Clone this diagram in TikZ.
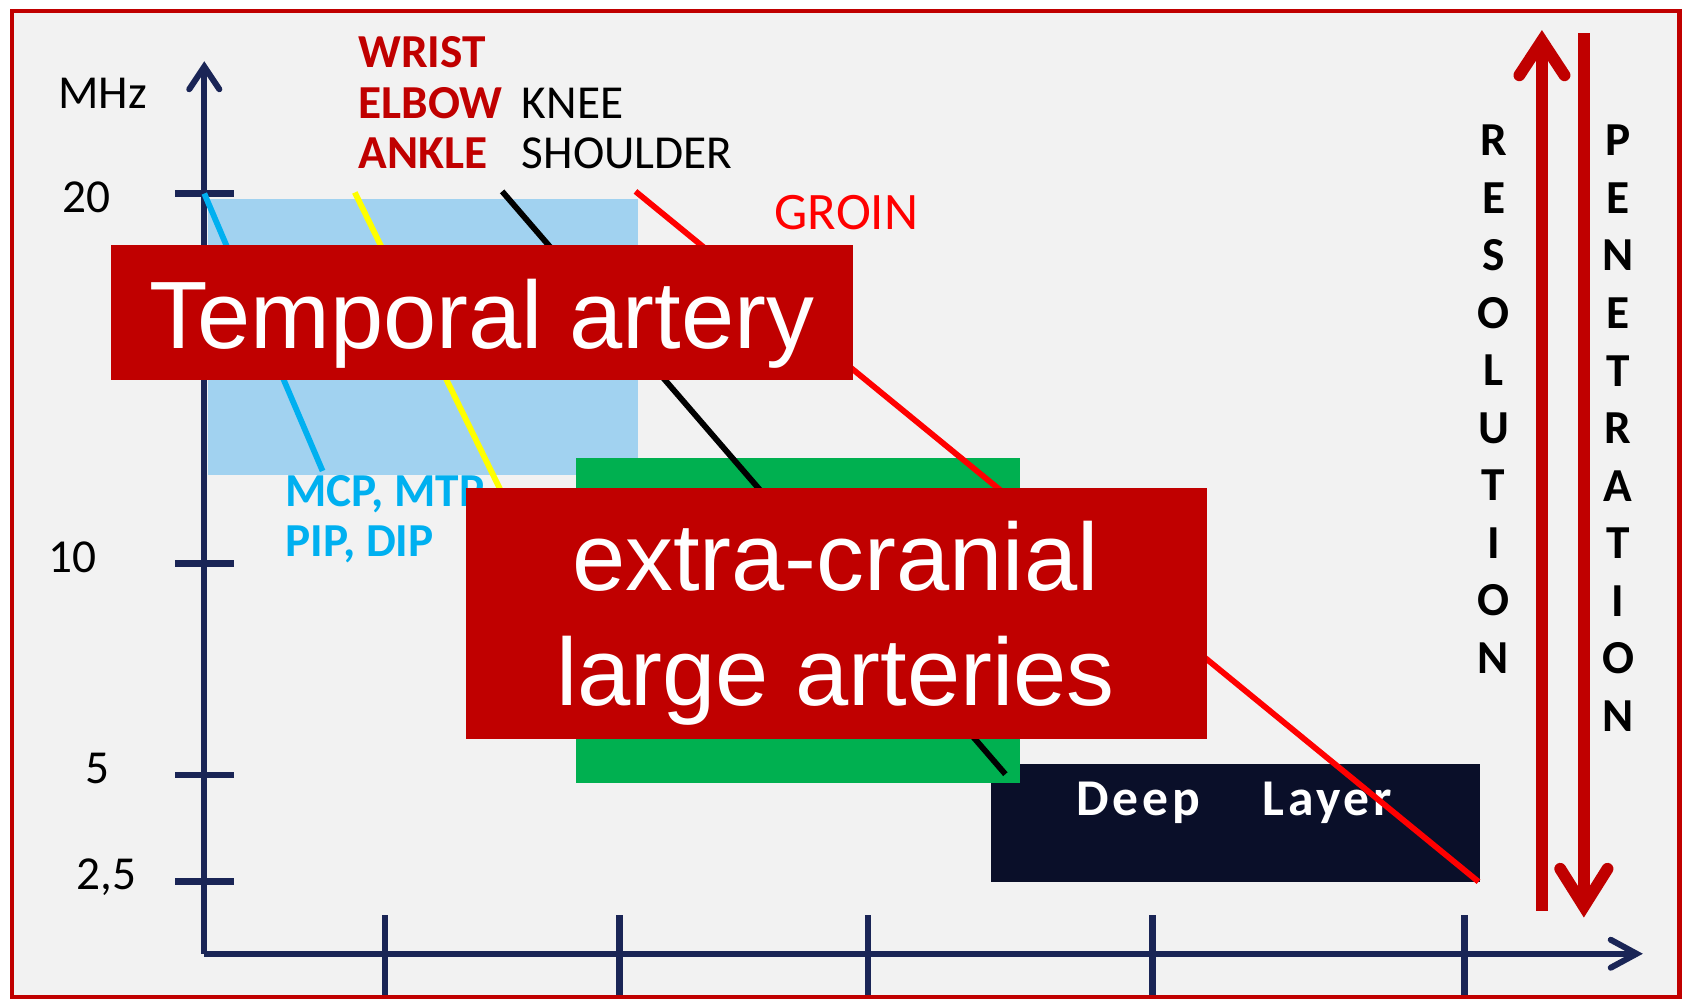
\documentclass[tikz,border=0pt]{standalone}
\usepackage{fontspec}
\setmainfont{Carlito}
\newfontfamily\arialfont{Liberation Sans}
\newfontfamily\spacedfont[LetterSpace=7]{Carlito}
\definecolor{bgc}{HTML}{F2F2F2}
\definecolor{darkred}{HTML}{C00000}
\definecolor{navy}{HTML}{1A2556}
\definecolor{deepc}{HTML}{0A0F29}
\definecolor{lblue}{HTML}{A1D2F0}
\definecolor{sky}{HTML}{00B0F0}
\definecolor{grn}{HTML}{00B050}
\definecolor{pureyellow}{HTML}{FFFF00}
\definecolor{purered}{HTML}{FF0000}
\tikzset{
  lab/.style={inner sep=0pt, font=\fontsize{22}{26}\selectfont},
  boldlab/.style={inner sep=0pt, font=\fontsize{22}{26}\selectfont\bfseries},
  bigtxt/.style={inner sep=0pt, text=white, font=\arialfont\fontsize{44.5}{53}\selectfont},
  redbox/.style={fill=darkred, inner sep=0pt, anchor=north west},
  axisline/.style={navy, line width=2.8pt},
  ticks/.style={navy, line width=3pt},
  axhead/.style={navy, line width=2.8pt, line cap=round, line join=miter},
  curve/.style={line width=2.7pt},
  bigarrow/.style={darkred, line width=5.5pt},
  bighead/.style={darkred, line width=5.5pt, line cap=round, line join=miter},
  vletter/.style={inner sep=0pt, anchor=base, font=\fontsize{22}{26}\selectfont\bfseries},
  deeptxt/.style={inner sep=0pt, anchor=base west, text=white, font=\spacedfont\bfseries\fontsize{24}{28}\selectfont}
}
\begin{document}
\begin{tikzpicture}[x=0.5pt,y=-0.5pt]
\useasboundingbox (0,0) rectangle (1568,929);
\fill[white] (0,0) rectangle (1568,929);
\draw[darkred, line width=2pt, fill=bgc] (11,10) rectangle (1562,927);

% filled regions
\node[fill=lblue, inner sep=0pt, anchor=north west, minimum width=200pt, minimum height=128pt] (bluezone) at (193,185) {};
\node[fill=deepc, inner sep=0pt, anchor=north west, minimum width=227.5pt, minimum height=55pt] (deepzone) at (921,710) {};
\node[deeptxt] (deep) at (1001,758) {Deep};
\node[deeptxt] (layer) at (1174,758) {Layer};
\node[fill=grn, inner sep=0pt, anchor=north west, minimum width=206.5pt, minimum height=151pt] (greenzone) at (535,426) {};

% axes
\coordinate (origin) at (190,887);
\coordinate (ytop) at (190,62);
\coordinate (xend) at (1522,887);
\draw[axisline] (origin) -- (ytop);
\draw[axisline] (origin) -- (xend);
\draw[axhead] (176,83) -- (ytop) -- (204,83);
\draw[axhead] (1498,874) -- (xend) -- (1498,900);
\foreach \yy in {180,524,721,820} \draw[ticks] (163,\yy) -- (218,\yy);
\foreach \xx in {358,576,807,1072,1362} \draw[ticks] (\xx,851) -- (\xx,925);

% axis labels
\node[lab, anchor=base west] (mhz) at (54,101) {MHz};
\node[lab, anchor=base west] (t20) at (58,198) {20};
\node[lab, anchor=base west] (t10) at (45,532) {10};
\node[lab, anchor=base west] (t5) at (79,729) {5};
\node[lab, anchor=base west] (t25) at (71,827) {2,5};

% joint labels
\node[boldlab, anchor=base west, text=darkred] (wrist) at (333,63) {WRIST};
\node[boldlab, anchor=base west, text=darkred] (elbow) at (333,110) {ELBOW};
\node[boldlab, anchor=base west, text=darkred] (ankle) at (333,157) {ANKLE};
\node[lab, anchor=base west] (knee) at (485,110) {KNEE};
\node[lab, anchor=base west] (shoulder) at (485,157) {SHOULDER};
\node[inner sep=0pt, anchor=base west, text=purered, font=\fontsize{24.5}{28}\selectfont] (groin) at (720,213) {GROIN};
\node[boldlab, anchor=base west, text=sky] (mcp) at (265,471) {MCP, MTP};
\node[boldlab, anchor=base west, text=sky] (pip) at (265,518) {PIP, DIP};

% frequency lines
\coordinate (b1) at (190,180); \coordinate (b2) at (300,438);
\coordinate (y1) at (330,179); \coordinate (y2) at (470,465);
\coordinate (k1) at (467,178); \coordinate (k2) at (935,720);
\coordinate (r1) at (591,178); \coordinate (r2) at (1375,820);
\draw[curve, sky] (b1) -- (b2);
\draw[curve, pureyellow] (y1) -- (y2);
\draw[curve, black] (k1) -- (k2);
\draw[curve, purered] (r1) -- (r2);

% red boxes
\node[redbox, minimum width=345pt, minimum height=63pt] (tbox) at (103,227) {};
\node[bigtxt, anchor=base] (temporal) at (448,324) {Temporal artery};
\node[redbox, minimum width=344.5pt, minimum height=117pt] (ebox) at (433,453) {};
\node[bigtxt, anchor=base] (extra) at (777,549) {extra-cranial};
\node[bigtxt, anchor=base] (large) at (777,656) {large arteries};

% resolution / penetration arrows
\coordinate (ub) at (1434,847); \coordinate (ut) at (1434,38);
\draw[bigarrow] (ub) -- (1434,45);
\draw[bighead] (1413,70) -- (ut) -- (1455,70);
\coordinate (dt) at (1473,31); \coordinate (db) at (1473,843);
\draw[bigarrow] (dt) -- (1473,836);
\draw[bighead] (1451,808) -- (db) -- (1495,808);

\foreach \ch [count=\i from 0] in {R,E,S,O,L,U,T,I,O,N}
  \node[vletter] (res\i) at (1389,{145+53.45*\i}) {\ch};
\foreach \ch [count=\i from 0] in {P,E,N,E,T,R,A,T,I,O,N}
  \node[vletter] (pen\i) at (1505,{145+53.5*\i}) {\ch};
\end{tikzpicture}
\end{document}
